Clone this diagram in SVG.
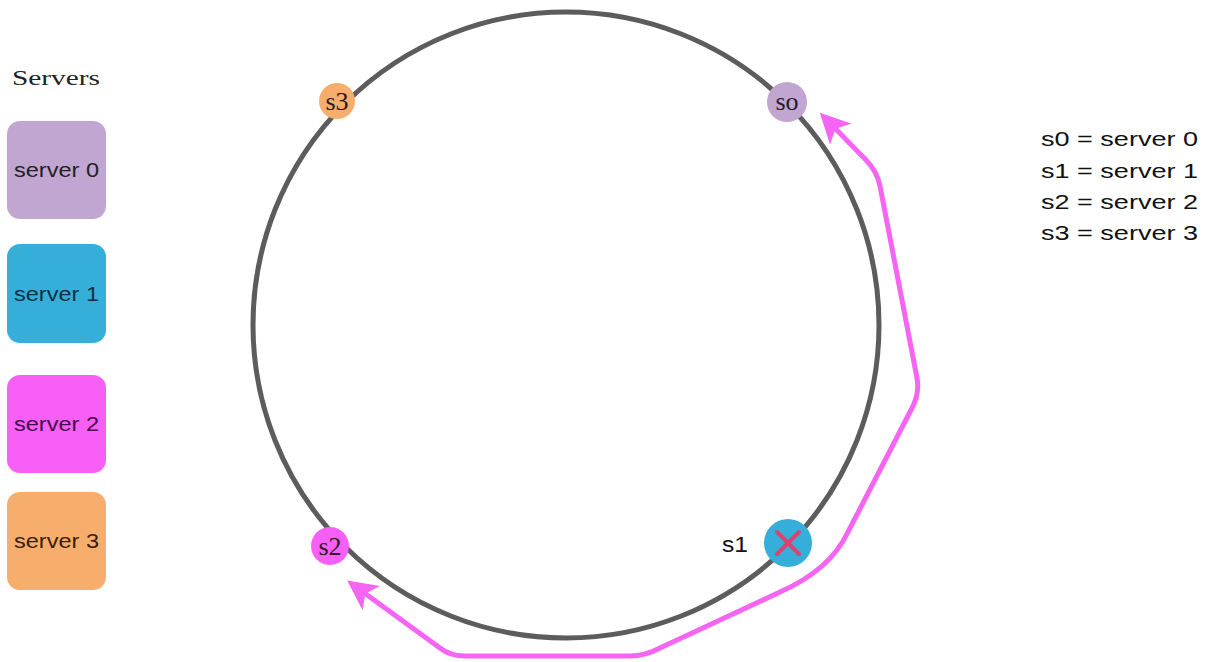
<svg xmlns="http://www.w3.org/2000/svg" width="1210" height="662" viewBox="0 0 1210 662">
<style>
.box{rx:13px;ry:13px}
.bt{font-family:"Liberation Sans",Arial,sans-serif;font-size:20px}
.nt{font-family:"Liberation Serif","DejaVu Serif",serif;font-size:26px;text-anchor:middle;fill:#2a1a2a}
.lg{font-family:"Liberation Sans",Arial,sans-serif;font-size:21px;fill:#111}
</style>
<defs>
<marker id="ah" viewBox="0 0 10 10" refX="8" refY="5" markerWidth="6" markerHeight="6" orient="auto-start-reverse" markerUnits="strokeWidth">
<path d="M0,0 L10,5 L0,10 L2.5,5 Z" fill="#f564f2"/>
</marker>
</defs>
<rect width="1210" height="662" fill="#fff"/>
<text x="12" y="85" font-family="Liberation Serif,serif" font-size="22" textLength="88" lengthAdjust="spacingAndGlyphs" fill="#222">Servers</text>
<g id="box0"><rect class="box" x="7" y="121" width="99" height="98" fill="#c0a6d0"/><text class="bt" x="14" y="177" textLength="85" lengthAdjust="spacingAndGlyphs" fill="#222">server 0</text></g>
<g id="box1"><rect class="box" x="7" y="244" width="99" height="99" fill="#35afd9"/><text class="bt" x="14" y="301" textLength="85" lengthAdjust="spacingAndGlyphs" fill="#0c3040">server 1</text></g>
<g id="box2"><rect class="box" x="7" y="375" width="99" height="98" fill="#f75ff6"/><text class="bt" x="14" y="431" textLength="85" lengthAdjust="spacingAndGlyphs" fill="#4a0a4a">server 2</text></g>
<g id="box3"><rect class="box" x="7" y="492" width="99" height="98" fill="#f7ad6b"/><text class="bt" x="14" y="548" textLength="85" lengthAdjust="spacingAndGlyphs" fill="#3a2008">server 3</text></g>
<g id="ring"><ellipse cx="566" cy="325" rx="313" ry="313" fill="none" stroke="#5c5c5c" stroke-width="5"/></g>
<g id="connectors">
<path d="M352,584 L440,648 Q450,656 465,656 L630,656 Q645,656 660,648 L780,592 Q830,570 848,532 L911,410 Q920,394 917,378 L880,186 Q877,171 866,160 L824,117" fill="none" stroke="#f564f2" stroke-width="5" stroke-linejoin="round" marker-start="url(#ah)" marker-end="url(#ah)"/>
</g>
<g id="s3"><circle cx="337" cy="101" r="18" fill="#f7ad6b"/><text class="nt" x="337" y="110">s3</text></g>
<g id="s0"><circle cx="787" cy="102" r="20" fill="#c0a6d0"/><text class="nt" x="787" y="110">so</text></g>
<g id="s2"><circle cx="330" cy="546" r="19" fill="#f75ff6"/><text class="nt" x="330" y="555">s2</text></g>
<g id="s1"><circle cx="788" cy="543" r="24" fill="#35afd9"/>
<path d="M777,532 L799,554 M799,532 L777,554" stroke="#d9436e" stroke-width="4" stroke-linecap="round"/>
<text x="722" y="552" font-family="Liberation Sans,Arial,sans-serif" font-size="22" textLength="26" lengthAdjust="spacingAndGlyphs" fill="#111">s1</text></g>
<g id="legend">
<text class="lg" x="1041" y="146" textLength="157" lengthAdjust="spacingAndGlyphs">s0 = server 0</text>
<text class="lg" x="1041" y="178" textLength="157" lengthAdjust="spacingAndGlyphs">s1 = server 1</text>
<text class="lg" x="1041" y="209" textLength="157" lengthAdjust="spacingAndGlyphs">s2 = server 2</text>
<text class="lg" x="1041" y="240" textLength="157" lengthAdjust="spacingAndGlyphs">s3 = server 3</text>
</g>
</svg>
